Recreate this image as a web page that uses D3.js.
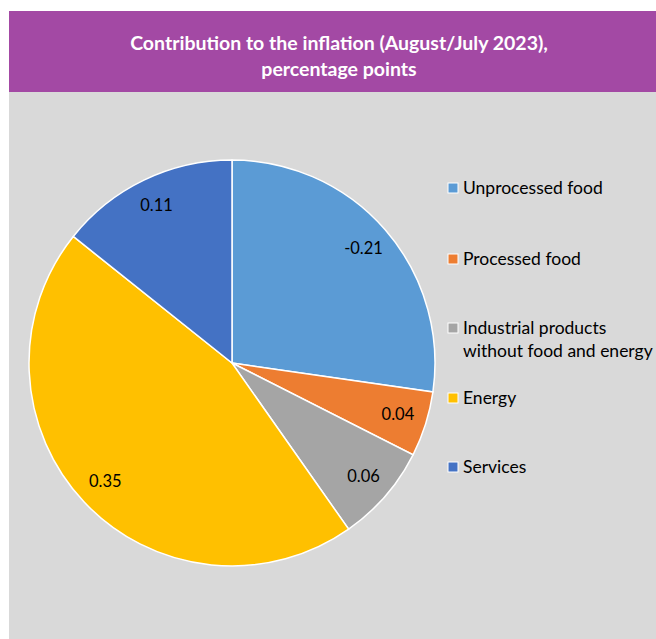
<!DOCTYPE html>
<html lang="en">
<head>
    <meta charset="UTF-8">
    <title>Contribution to the inflation</title>
    <script src="https://cdn.jsdelivr.net/npm/d3@7"></script>
    <style>
        body { margin: 0; background: #fff; }
        text { font-family: Lato, "Open Sans", sans-serif; }
    </style>
</head>
<body>
    <svg width="656" height="639"></svg>
<script>
    var categories = ["Unprocessed food", "Processed food", "Industrial products without food and energy", "Energy", "Services"],
        legendLines = [["Unprocessed food"], ["Processed food"], ["Industrial products", "without food and energy"], ["Energy"], ["Services"]],
        values = [-0.21, 0.04, 0.06, 0.35, 0.11],
        colors = ["#5b9bd5", "#ed7d31", "#a5a5a5", "#ffc000", "#4472c4"],
        titleLines = ["Contribution to the inflation (August/July 2023),", "percentage points"];

    var svg = d3.select("svg");

    // background panels
    svg.append("rect").attr("x", 9).attr("y", 11).attr("width", 647).attr("height", 81).attr("fill", "#a349a4");
    svg.append("rect").attr("x", 9).attr("y", 92).attr("width", 647).attr("height", 547).attr("fill", "#d9d9d9");

    svg.append("g").selectAll("text")
        .data(titleLines)
        .enter().append("text")
        .attr("x", 339)
        .attr("y", function (d, i) { return 50 + i * 26; })
        .attr("text-anchor", "middle")
        .attr("fill", "#fff")
        .attr("font-weight", "bold")
        .attr("font-size", "19.5px")
        .text(function (d) { return d; });

    var radius = 203,
        g = svg.append("g").attr("transform", "translate(232,363)");

    var pie = d3.pie().sort(null).value(function (d) { return Math.abs(d); });
    var arc = d3.arc().innerRadius(0).outerRadius(radius);
    var labelArc = d3.arc().innerRadius(174).outerRadius(174);

    var arcs = pie(values);

    g.selectAll("path")
        .data(arcs)
        .enter().append("path")
        .attr("d", arc)
        .attr("fill", function (d, i) { return colors[i]; })
        .attr("stroke", "#fff")
        .attr("stroke-width", 1.5);

    g.selectAll(".lbl")
        .data(arcs)
        .enter().append("text")
        .attr("class", "lbl")
        .attr("transform", function (d) { return "translate(" + labelArc.centroid(d) + ")"; })
        .attr("text-anchor", "middle")
        .attr("dy", "0.3em")
        .attr("font-size", "16.5px")
        .attr("fill", "#000")
        .text(function (d) { return d.data.toFixed(2); });

    // legend
    var legendY = [188, 259, 328, 398, 467];
    var legend = svg.append("g").selectAll("g")
        .data(categories)
        .enter().append("g")
        .attr("transform", function (d, i) { return "translate(448," + legendY[i] + ")"; });

    legend.append("rect")
        .attr("x", 0).attr("y", -5)
        .attr("width", 10).attr("height", 10)
        .attr("fill", function (d, i) { return colors[i]; })
        .attr("stroke", "#fff")
        .attr("stroke-width", 1);

    legend.append("text")
        .attr("x", 15)
        .attr("y", 6)
        .attr("font-size", "17.5px")
        .attr("fill", "#000")
        .selectAll("tspan")
        .data(function (d, i) { return legendLines[i]; })
        .enter().append("tspan")
        .attr("x", 15)
        .attr("dy", function (d, i) { return i === 0 ? 0 : 23; })
        .text(function (d) { return d; });
</script>
</body>
</html>
